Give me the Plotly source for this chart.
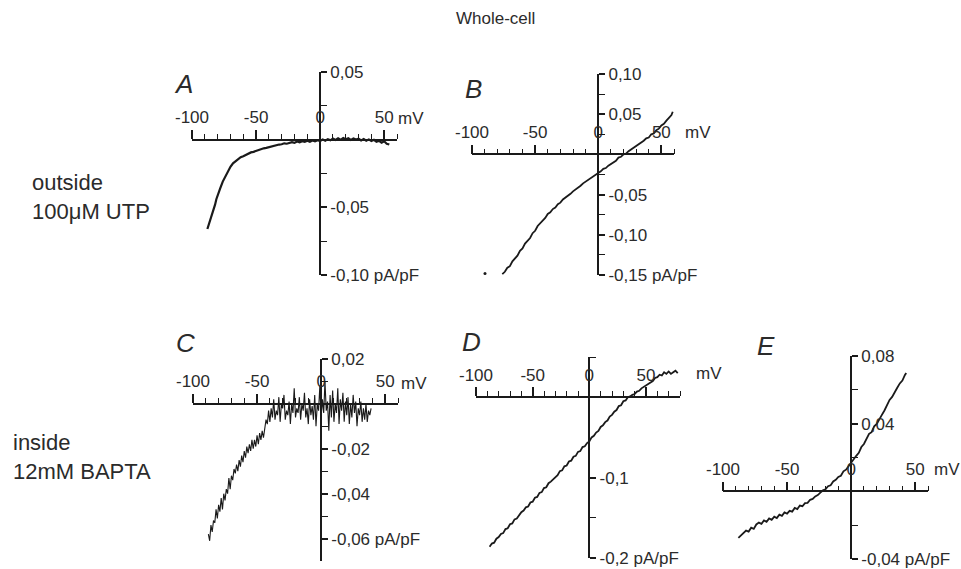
import plotly.graph_objects as go

W, H = 961, 569

# ---- data (mV, pA/pF) ----
# A: outside 100uM UTP
A_mV = [-88, -87, -86, -85, -84, -83, -82, -81, -80, -78, -76, -74, -72, -70, -68, -66, -64, -62, -60, -58,
        -56, -54, -52, -50, -48, -46, -44, -42, -40, -38, -36, -34, -32, -30, -28, -26, -24, -22, -20, -18,
        -16, -14, -12, -10, -8, -6, -4, -2, 0, 2, 4, 6, 8, 10, 12, 14, 16, 18, 20, 22,
        24, 26, 28, 30, 32, 34, 36, 38, 40, 42, 44, 46, 48, 50, 52, 54]
A_pApF = [-0.066, -0.063, -0.060, -0.058, -0.055, -0.051, -0.048, -0.044, -0.041, -0.036, -0.031, -0.027, -0.024, -0.020, -0.0175, -0.016, -0.0145, -0.013, -0.0122, -0.0112,
          -0.0104, -0.0094, -0.0090, -0.0083, -0.0075, -0.0072, -0.0064, -0.0061, -0.0055, -0.0050, -0.0046, -0.0042, -0.0036, -0.0034, -0.0027, -0.0030, -0.0022, -0.0018, -0.0024, -0.0014,
          -0.0020, -0.0011, -0.0016, -0.0008, -0.0015, -0.0006, -0.0012, -0.0004, -0.0010, 0.0002, -0.0008, 0.0004, -0.0005, 0.0008, -0.0002, 0.0010, -0.0001, 0.0012, 0.0003, 0.0011,
          -0.0002, 0.0009, 0.0001, 0.0007, -0.0006, 0.0004, -0.0008, 0.0002, -0.0010, -0.0001, -0.0016, -0.0008, -0.0022, -0.0012, -0.0030, -0.0036]

# B: outside 100uM UTP
B_mV = [-76, -74, -72, -70, -68, -66, -64, -62, -60, -58, -56, -54, -52, -50, -48, -46, -44, -42, -40, -38,
        -36, -34, -32, -30, -28, -26, -24, -22, -20, -18, -16, -14, -12, -10, -8, -6, -4, -2, 0, 2,
        4, 6, 8, 10, 12, 14, 16, 18, 20, 22, 24, 26, 28, 30, 32, 34, 36, 38, 40, 42,
        44, 46, 48, 50, 52, 54, 56, 58, 59]
B_pApF = [-0.149, -0.146, -0.141, -0.139, -0.133, -0.129, -0.126, -0.120, -0.117, -0.111, -0.107, -0.104, -0.098, -0.095, -0.089, -0.086, -0.082, -0.079, -0.074, -0.072,
          -0.068, -0.066, -0.062, -0.060, -0.056, -0.054, -0.051, -0.049, -0.046, -0.044, -0.041, -0.039, -0.036, -0.034, -0.031, -0.030, -0.027, -0.025, -0.023, -0.021,
          -0.018, -0.017, -0.014, -0.012, -0.009, -0.008, -0.004, -0.003, 0.000, 0.001, 0.004, 0.006, 0.008, 0.011, 0.012, 0.015, 0.017, 0.020, 0.021, 0.025,
          0.026, 0.030, 0.032, 0.036, 0.038, 0.042, 0.045, 0.049, 0.053]
B_dot_mV = [-89.7]
B_dot_pApF = [-0.148]

# C: inside 12mM BAPTA (1 mV steps, -88 .. 39)
C_mV = list(range(-88, 40))
C_pApF = [-0.058, -0.061, -0.054, -0.057, -0.052, -0.053, -0.047, -0.051, -0.045, -0.048,
          -0.042, -0.047, -0.040, -0.043, -0.038, -0.040, -0.033, -0.038, -0.032, -0.034,
          -0.029, -0.031, -0.027, -0.030, -0.025, -0.028, -0.023, -0.026, -0.021, -0.024,
          -0.019, -0.022, -0.018, -0.021, -0.016, -0.020, -0.016, -0.019, -0.014, -0.018,
          -0.013, -0.016, -0.012, -0.015, -0.011, -0.007, -0.009, -0.003, -0.008, -0.002,
          -0.006, 0.002, -0.007, -0.003, -0.005, 0.003, -0.008, 0.000, -0.002, 0.004,
          -0.007, -0.003, -0.005, 0.001, -0.009, 0.000, -0.004, 0.007, -0.006, -0.002,
          -0.004, 0.003, -0.007, 0.000, -0.003, 0.005, -0.006, -0.002, -0.009, 0.002,
          -0.005, -0.001, -0.007, 0.004, -0.010, 0.000, -0.003, 0.008, -0.006, 0.002,
          -0.004, 0.010, -0.003, 0.001, -0.012, 0.004, -0.006, 0.006, -0.008, 0.000,
          -0.004, 0.007, -0.009, 0.002, -0.003, 0.005, -0.008, 0.001, -0.005, 0.003,
          -0.009, 0.000, -0.006, 0.004, -0.004, 0.001, -0.010, -0.002, -0.005, 0.001,
          -0.008, -0.002, -0.007, 0.000, -0.008, -0.003, -0.005, -0.002]

# D: inside 12mM BAPTA (2 mV steps, -88 .. 78)
D_mV = list(range(-88, 80, 2))
D_pApF = [-0.186, -0.182, -0.181, -0.176, -0.174, -0.170, -0.169, -0.164, -0.163, -0.158,
          -0.157, -0.152, -0.151, -0.147, -0.143, -0.141, -0.137, -0.136, -0.131, -0.130,
          -0.125, -0.124, -0.119, -0.118, -0.113, -0.112, -0.107, -0.105, -0.102, -0.099,
          -0.097, -0.092, -0.091, -0.086, -0.085, -0.080, -0.079, -0.074, -0.073, -0.068,
          -0.067, -0.062, -0.061, -0.057, -0.055, -0.050, -0.048, -0.044, -0.042, -0.037,
          -0.035, -0.031, -0.029, -0.024, -0.022, -0.018, -0.016, -0.011, -0.010, -0.005,
          -0.004, 0.000, 0.001, 0.003, 0.004, 0.007, 0.008, 0.011, 0.013, 0.015,
          0.017, 0.019, 0.020, 0.024, 0.025, 0.028, 0.027, 0.031, 0.029, 0.032,
          0.029, 0.031, 0.033, 0.030]

# E: inside 12mM BAPTA
E_mV = list(range(-88, 44, 2)) + [43]
E_pApF = [-0.0275, -0.0262, -0.0250, -0.0232, -0.0238, -0.0215, -0.0222, -0.0196, -0.0185, -0.0192,
          -0.0172, -0.0180, -0.0160, -0.0168, -0.0150, -0.0158, -0.0138, -0.0145, -0.0125, -0.0132,
          -0.0115, -0.0120, -0.0098, -0.0105, -0.0084, -0.0088, -0.0070, -0.0068, -0.0050, -0.0045,
          -0.0030, -0.0022, -0.0008, 0.0006, 0.0012, 0.0030, 0.0036, 0.0058, 0.0068, 0.0085,
          0.0092, 0.0118, 0.0128, 0.0150, 0.0172, 0.0190, 0.0210, 0.0228, 0.0262, 0.0280,
          0.0312, 0.0340, 0.0350, 0.0384, 0.0398, 0.0430, 0.0452, 0.0478, 0.0512, 0.0540,
          0.0558, 0.0590, 0.0612, 0.0638, 0.0655, 0.0688, 0.0700]

X_TICKS = [-100, -50, 0, 50]
X_TICKTEXT = ['-100', '-50', '0', '50']

panels = [
    dict(letter='A', mV=A_mV, I=A_pApF, box=(192, 397, 72, 275), xr=(-100, 60), yr=(-0.10, 0.05),
         yt=[0.05, -0.05, -0.10], ytt=['0,05', '-0,05', '-0,10 pA/pF'], ym=[0.025, -0.025, -0.075],
         letter_at=(183, 84), mv_at=(396, 118), width=2.2),
    dict(letter='B', mV=B_mV, I=B_pApF, box=(472, 674, 74, 275), xr=(-100, 60), yr=(-0.15, 0.10),
         yt=[0.10, 0.05, -0.05, -0.10, -0.15], ytt=['0,10', '0,05', '-0,05', '-0,10', '-0,15 pA/pF'],
         ym=[0.075, 0.025, -0.025, -0.075, -0.125], letter_at=(473, 89), mv_at=(683, 132), width=1.8),
    dict(letter='C', mV=C_mV, I=C_pApF, box=(193, 398, 359, 561), xr=(-100, 60), yr=(-0.07, 0.02),
         yt=[0.02, -0.02, -0.04, -0.06], ytt=['0,02', '-0,02', '-0,04', '-0,06 pA/pF'],
         ym=[0.01, -0.01, -0.03, -0.05], letter_at=(185, 343), mv_at=(399, 383), width=1.1),
    dict(letter='D', mV=D_mV, I=D_pApF, box=(476, 680, 357, 558), xr=(-100, 80), yr=(-0.2, 0.05),
         yt=[-0.1, -0.2], ytt=['-0,1', '-0,2 pA/pF'], ym=[0.05, -0.15],
         letter_at=(471, 342), mv_at=(694, 373), width=1.8),
    dict(letter='E', mV=E_mV, I=E_pApF, box=(723, 928, 356, 559), xr=(-100, 60), yr=(-0.04, 0.08),
         yt=[0.08, 0.04, -0.04], ytt=['0,08', '0,04', '-0,04 pA/pF'], ym=[0.06, 0.02, -0.02],
         letter_at=(766, 346), mv_at=(932, 469), width=1.8),
]

FONT = 'Liberation Sans, Arial, sans-serif'
INK = '#1a1a1a'
TXT = '#2b2b2b'
TICK_SIZE = 17

fig = go.Figure()
layout = dict(width=W, height=H, margin=dict(l=0, r=0, t=0, b=0, autoexpand=False),
              paper_bgcolor='white', plot_bgcolor='white', showlegend=False,
              font=dict(family=FONT, color=TXT))
annotations = []

for i, p in enumerate(panels):
    k = '' if i == 0 else str(i + 1)
    x0, x1, ytop, ybot = p['box']
    xr0, xr1 = p['xr']
    yr0, yr1 = p['yr']
    x_zero = x0 + (0 - xr0) / (xr1 - xr0) * (x1 - x0)
    y_zero = ytop + (yr1 - 0) / (yr1 - yr0) * (ybot - ytop)
    # tiny pad so ticks sitting exactly on the axis ends are not dropped
    xeps = (xr1 - xr0) * 1e-6
    yeps = (yr1 - yr0) * 1e-6

    fig.add_trace(go.Scatter(x=p['mV'], y=p['I'], mode='lines',
                             line=dict(color=INK, width=p['width']),
                             xaxis='x' + k, yaxis='y' + k, hoverinfo='skip'))
    if p['letter'] == 'B':
        fig.add_trace(go.Scatter(x=B_dot_mV, y=B_dot_pApF, mode='markers',
                                 marker=dict(color=INK, size=3),
                                 xaxis='x' + k, yaxis='y' + k, hoverinfo='skip'))

    minor_x = [v for v in range(xr0, xr1 + 1, 10) if v not in X_TICKS]
    layout['xaxis' + k] = dict(
        domain=[x0 / W, x1 / W], range=[xr0 - xeps, xr1 + xeps], anchor='free', position=1 - y_zero / H,
        side='top', showline=True, linecolor=INK, linewidth=1.6, showgrid=False, zeroline=False,
        automargin=False, ticklabeloverflow='allow',
        ticks='outside', ticklen=9, tickwidth=1.5, tickcolor=INK,
        tickmode='array', tickvals=X_TICKS, ticktext=X_TICKTEXT,
        minor=dict(tickmode='array', tickvals=minor_x, ticks='outside', ticklen=5,
                   tickwidth=1.3, tickcolor=INK),
        tickfont=dict(size=TICK_SIZE, color=TXT, family=FONT), fixedrange=True)
    layout['yaxis' + k] = dict(
        domain=[1 - ybot / H, 1 - ytop / H], range=[yr0 - yeps, yr1 + yeps], anchor='free', position=x_zero / W,
        side='right', showline=True, linecolor=INK, linewidth=1.6, showgrid=False, zeroline=False,
        automargin=False, ticklabeloverflow='allow',
        ticks='outside', ticklen=6, tickwidth=1.5, tickcolor=INK,
        tickmode='array', tickvals=p['yt'], ticktext=p['ytt'],
        minor=dict(tickmode='array', tickvals=p['ym'], ticks='outside', ticklen=6,
                   tickwidth=1.3, tickcolor=INK),
        tickfont=dict(size=TICK_SIZE, color=TXT, family=FONT), fixedrange=True)

    lx, ly = p['letter_at']
    annotations.append(dict(text='<i>' + p['letter'] + '</i>', x=lx / W, y=1 - ly / H,
                            xref='paper', yref='paper', showarrow=False,
                            xanchor='center', yanchor='middle',
                            font=dict(size=26, color=TXT, family=FONT)))
    mx, my = p['mv_at']
    annotations.append(dict(text='mV', x=mx / W, y=1 - my / H, xref='paper', yref='paper',
                            showarrow=False, xanchor='left', yanchor='middle',
                            font=dict(size=TICK_SIZE, color=TXT, family=FONT)))

annotations += [
    dict(text='Whole-cell', x=495 / W, y=1 - 19 / H, xref='paper', yref='paper', showarrow=False,
         xanchor='center', yanchor='middle', font=dict(size=17, color=TXT, family=FONT)),
    dict(text='outside<br>100\u03bcM UTP', x=30 / W, y=1 - 197 / H, xref='paper', yref='paper',
         showarrow=False, xanchor='left', yanchor='middle', align='left',
         font=dict(size=22, color=TXT, family=FONT)),
    dict(text='inside<br>12mM BAPTA', x=11 / W, y=1 - 457 / H, xref='paper', yref='paper',
         showarrow=False, xanchor='left', yanchor='middle', align='left',
         font=dict(size=22, color=TXT, family=FONT)),
]
layout['annotations'] = annotations
fig.update_layout(**layout)

fig.write_html("out.html", config={'displayModeBar': False},
               post_script="document.body.style.margin = '0px';")
